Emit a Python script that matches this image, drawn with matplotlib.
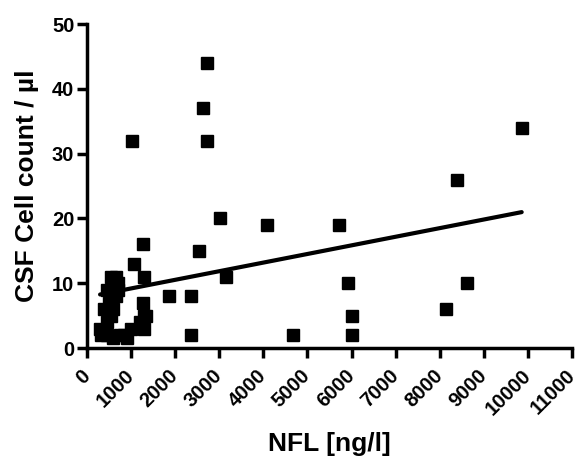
import numpy as np
import matplotlib.pyplot as plt

plt.rcParams['font.family'] = ['Liberation Sans', 'DejaVu Sans']
plt.rcParams['font.weight'] = 'bold'

# NFL [ng/l] and CSF cell count / ul
nfl = [330, 450, 600, 750, 850, 900, 300, 1000, 1300, 1200, 1300, 1280,
       450, 550, 400, 600, 500, 650, 550, 450, 700, 600, 650, 550, 700,
       1300, 1341, 1080, 1270, 1030, 1865, 2367, 2352,
       2717, 2629, 2726, 9858, 8382, 3011, 4075, 5715, 2550, 3161,
       5910, 8629, 8135, 6015, 4665, 6015]
cells = [2, 2, 1.5, 2, 2, 1.5, 3, 3, 3, 4, 5, 7,
         4, 5, 6, 6, 7, 8, 8, 9, 9, 10, 11, 11, 10,
         11, 5, 13, 16, 32, 8, 8, 2,
         44, 37, 32, 34, 26, 20, 19, 19, 15, 11,
         10, 10, 6, 5, 2, 2]

# regression line
slope = 0.00133
intercept = 7.86

fig = plt.figure(figsize=(5.79, 4.59), dpi=100)
ax = fig.add_axes([0.150, 0.2418, 0.838, 0.7059])

ax.plot(nfl, cells, 's', color='black', ms=9, clip_on=False)
xl = np.array([min(nfl), max(nfl)])
ax.plot(xl, intercept + slope * xl, color='black', lw=3, solid_capstyle='round')

ax.set_xlim(0, 11000)
ax.set_ylim(0, 50)

for s in ['top', 'right']:
    ax.spines[s].set_visible(False)
for s in ['left', 'bottom']:
    ax.spines[s].set_linewidth(2.5)
ax.tick_params(width=2.5, length=7, direction='out')
ax.tick_params(axis='y', pad=2)
ax.tick_params(axis='x', pad=11)

ax.set_xticks(range(0, 11001, 1000))
ax.set_yticks(range(0, 51, 10))
ax.set_xticklabels([str(v) for v in range(0, 11001, 1000)], rotation=45,
                   ha='right', va='center', rotation_mode='anchor',
                   fontsize=14.5, fontweight='bold')
ax.set_yticklabels([str(v) for v in range(0, 51, 10)], fontsize=14.5, fontweight='bold')

ax.set_xlabel('NFL [ng/l]', fontsize=19, fontweight='bold', labelpad=9)
ax.set_ylabel('CSF Cell count / µl', fontsize=19, fontweight='bold', labelpad=9)

fig.savefig('out.png', dpi=100)
